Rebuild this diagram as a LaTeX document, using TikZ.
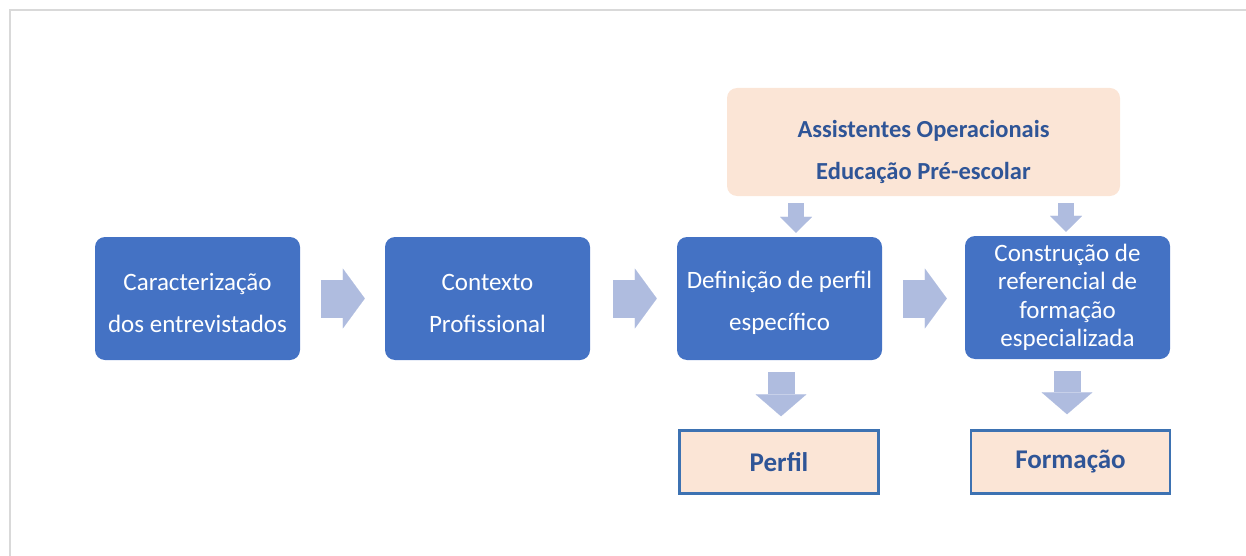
\documentclass[tikz,border=0pt]{standalone}
\usepackage{fontspec}
\setmainfont{Carlito}
\usetikzlibrary{arrows.meta}
\definecolor{boxblue}{HTML}{4472C4}
\definecolor{peach}{HTML}{FBE5D6}
\definecolor{arrblue}{HTML}{AFBCDF}
\definecolor{textblue}{HTML}{2F5597}
\definecolor{edgeblue}{HTML}{3D72B2}
\definecolor{framegray}{HTML}{D9D9D9}
\tikzset{
  stage/.style={fill=boxblue, rounded corners=10pt, text=white, align=center,
    minimum width=205pt, minimum height=123pt, inner sep=0pt,
    font=\fontsize{25}{42}\selectfont},
  result/.style={fill=peach, draw=edgeblue, line width=2.5pt, text=textblue,
    minimum width=199pt, minimum height=63pt, inner sep=0pt,
    font=\fontsize{27}{30}\selectfont\bfseries},
  bigarrow/.style={arrblue, line width=38pt,
    -{Triangle[length=22pt 0, width=60pt 0, line width=0.1pt 0]}},
  smallarrow/.style={arrblue, line width=16pt,
    -{Triangle[length=16pt 0, width=32pt 0, line width=0.1pt 0]}},
  downarrow/.style={arrblue, line width=27pt,
    -{Triangle[length=22pt 0, width=51pt 0, line width=0.1pt 0]}}
}
\begin{document}
\begin{tikzpicture}[x=1pt,y=-1pt]
\useasboundingbox (0,0) rectangle (1246,556);
\draw[framegray, line width=2pt] (9.5,556) -- (9.5,10.5) -- (1246,10.5);

\node[stage, text height=69pt] (carac) at (197.5,298.5) {Caracterização\\dos entrevistados};
\node[stage, text height=69pt] (contexto) at (487.5,298.5) {Contexto\\Profissional};
\node[stage, text height=69pt] (perfildef) at (779.5,298.5) {Definição de perfil\\específico};
\node[stage, font=\fontsize{25}{28.5}\selectfont] (construcao) at (1067.5,297.5)
  {Construção de\\referencial de\\formação\\especializada};
\node[fill=peach, rounded corners=10pt, minimum width=393pt, minimum height=108pt,
  text=textblue, align=center, inner sep=0pt, text height=80pt,
  font=\fontsize{24.5}{42}\selectfont\bfseries]
  (grupo) at (923.5,142) {Assistentes Operacionais\\Educação Pré-escolar};
\node[result] (perfil) at (779,462) {Perfil};
\node[result] (formacao) at (1070.5,462) {Formação};

\draw[bigarrow, shorten <=21pt, shorten >=20pt] (carac) -- (contexto);
\draw[bigarrow, shorten <=23pt, shorten >=20pt] (contexto) -- (perfildef);
\draw[bigarrow, shorten <=21pt, shorten >=18pt] (perfildef) -- (construcao.west |- perfildef.east);

\coordinate (a1) at (796,0);
\coordinate (a2) at (1066,0);
\coordinate (a3) at (781,0);
\coordinate (a4) at (1067,0);
\draw[smallarrow, shorten <=7pt, shorten >=4pt] (grupo.south -| a1) -- (perfildef.north -| a1);
\draw[smallarrow, shorten <=7pt, shorten >=4pt] (grupo.south -| a2) -- (construcao.north -| a2);
\draw[downarrow, shorten <=12pt, shorten >=13pt] (perfildef.south -| a3) -- (perfil.north -| a3);
\draw[downarrow, shorten <=12pt, shorten >=15pt] (construcao.south -| a4) -- (formacao.north -| a4);
\end{tikzpicture}
\end{document}
